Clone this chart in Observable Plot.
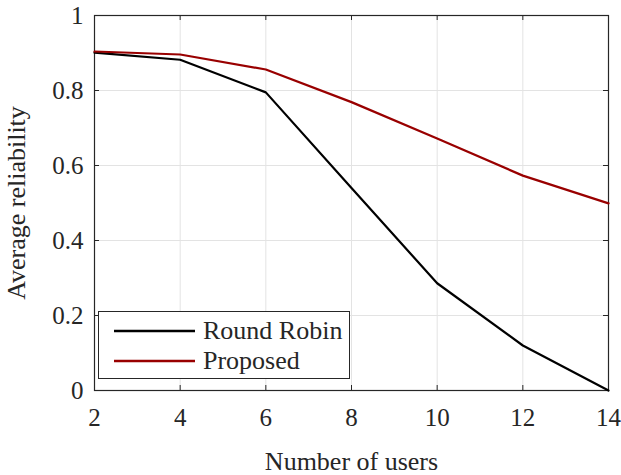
<!DOCTYPE html>
<html>
<head>
<meta charset="utf-8">
<script src="https://cdn.jsdelivr.net/npm/d3@7"></script>
<script src="https://cdn.jsdelivr.net/npm/@observablehq/plot@0.6"></script>
<style>
  html, body { margin: 0; padding: 0; background: #fff; }
  #wrap { position: relative; width: 621px; height: 475px; font-family: "Liberation Serif", "Times New Roman", serif; color: #262626; }
  #legend { position: absolute; left: 98px; top: 311px; width: 252px; height: 68px; border: 1px solid #262626; background: #fff; box-sizing: border-box; }
  .item { position: absolute; left: 0; height: 30px; display: flex; align-items: center; font-size: 26px; white-space: nowrap; }
  .item svg { margin-left: 15px; margin-right: 8px; }
</style>
</head>
<body>
<div id="wrap"></div>
<script>
const users = [2, 4, 6, 8, 10, 12, 14];
const roundRobin = [0.901, 0.882, 0.795, 0.540, 0.286, 0.120, 0.0];
const proposed = [0.904, 0.896, 0.856, 0.769, 0.672, 0.573, 0.499];
const seriesNames = ["Round Robin", "Proposed"];
const seriesColors = ["#000000", "#990000"];
const xTicks = [2, 4, 6, 8, 10, 12, 14];
const yTicks = [0, 0.2, 0.4, 0.6, 0.8, 1];

const rr = users.map((u, i) => ({x: u, y: roundRobin[i]}));
const pr = users.map((u, i) => ({x: u, y: proposed[i]}));

const W = 621, H = 475, mL = 94, mR = 13, mT = 15, mB = 85;
const innerW = W - mL - mR, innerH = H - mT - mB;
const tick = 5;

const chart = Plot.plot({
  width: W, height: H,
  marginLeft: mL, marginRight: mR, marginTop: mT, marginBottom: mB,
  style: {fontFamily: '"Liberation Serif", "Times New Roman", serif', color: "#262626", background: "#fff", overflow: "visible"},
  x: {domain: [2, 14]},
  y: {domain: [0, 1]},
  marks: [
    Plot.ruleX(xTicks, {x: d => d, stroke: "#e3e3e3", strokeWidth: 1}),
    Plot.ruleY(yTicks, {y: d => d, stroke: "#e3e3e3", strokeWidth: 1}),
    Plot.tickX(xTicks, {x: d => d, stroke: "#262626", insetTop: innerH - tick}),
    Plot.tickX(xTicks, {x: d => d, stroke: "#262626", insetBottom: innerH - tick}),
    Plot.tickY(yTicks, {y: d => d, stroke: "#262626", insetRight: innerW - tick}),
    Plot.tickY(yTicks, {y: d => d, stroke: "#262626", insetLeft: innerW - tick}),
    Plot.frame({stroke: "#262626", strokeWidth: 1.2}),
    Plot.axisX({ticks: xTicks, tickSize: 0, tickPadding: 18, fontSize: 25, label: "Number of users", labelAnchor: "center", labelOffset: 79, labelArrow: "none"}),
    Plot.axisY({ticks: yTicks, tickSize: 0, tickPadding: 11, fontSize: 25, tickFormat: d => String(d), label: "Average reliability", labelAnchor: "center", labelOffset: 88, labelArrow: "none"}),
    Plot.line(rr, {x: "x", y: "y", stroke: seriesColors[0], strokeWidth: 2.2}),
    Plot.line(pr, {x: "x", y: "y", stroke: seriesColors[1], strokeWidth: 2.2})
  ]
});
const svg = d3.select(chart);
svg.selectAll("g[aria-label='x-axis tick label'], g[aria-label='y-axis tick label']").attr("font-size", 25);
svg.selectAll("g[aria-label='x-axis tick label'] text, g[aria-label='y-axis tick label'] text").attr("font-size", 25);
svg.selectAll("g[aria-label='x-axis label'], g[aria-label='y-axis label']").attr("font-size", 26);
svg.selectAll("g[aria-label='x-axis label'] text, g[aria-label='y-axis label'] text").attr("font-size", 26);

const wrap = document.getElementById("wrap");
wrap.appendChild(chart);

const legend = document.createElement("div");
legend.id = "legend";
seriesNames.forEach((name, i) => {
  const item = document.createElement("div");
  item.className = "item";
  item.style.top = (4 + i * 30) + "px";
  item.innerHTML = `<svg width="81" height="4"><line x1="0" x2="81" y1="2" y2="2" stroke="${seriesColors[i]}" stroke-width="2.4"/></svg><span>${name}</span>`;
  legend.appendChild(item);
});
wrap.appendChild(legend);
</script>
</body>
</html>
